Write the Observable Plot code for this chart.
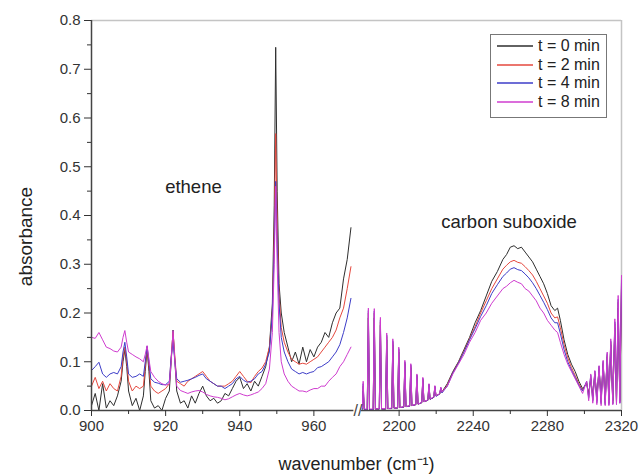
<!DOCTYPE html>
<html><head><meta charset="utf-8">
<script src="https://cdn.jsdelivr.net/npm/d3@7"></script>
<script src="https://cdn.jsdelivr.net/npm/@observablehq/plot@0.6"></script>
<style>
body{margin:0;background:#fff;font-family:"Liberation Sans",Arial,sans-serif;}
#wrap{position:relative;width:641px;height:476px;}
#legend{position:absolute;left:490px;top:34px;width:117px;height:84px;border:1px solid #777;background:#fff;box-sizing:border-box;padding-top:2px;font-size:16px;color:#222;}
#legend .row{display:flex;align-items:center;height:18.5px;}
#legend svg{margin-left:6px;margin-right:5px;}
</style>
</head><body>
<div id="wrap"><div id="legend"></div></div>
<script>
const seriesNames = ["t = 0 min", "t = 2 min", "t = 4 min", "t = 8 min"];
const seriesColors = ["#2e2e2e", "#e5483e", "#3d3dc8", "#cf3ccf"];

// ethene region (cm-1)
const wnEthene = [900,901,902,903,904,905,906,907,908,908.5,909,909.5,910,911,912,913,914,914.5,915,915.5,916,917,918,919,920,921,921.5,922,922.5,923,924,925,926,927,928,929,930,931,932,933,934,935,936,937,938,939,940,941,942,943,944,945,946,947,948,948.8,949.3,949.7,950.1,950.6,951.2,952,953,954,955,956,957,958,959,960,961,962,963,964,965,966,967,968,969,970];
const absEthene0 = [0.01,0.035,0.0,0.055,0.005,0.02,0.01,0.03,0.06,0.1,0.125,0.09,0.04,0.01,0.025,0.0,0.03,0.08,0.125,0.08,0.02,0.005,0.01,0.0,0.025,0.04,0.1,0.165,0.1,0.04,0.015,0.02,0.005,0.03,0.015,0.035,0.05,0.03,0.02,0.025,0.015,0.02,0.035,0.03,0.045,0.06,0.068,0.045,0.055,0.04,0.06,0.05,0.07,0.09,0.13,0.22,0.42,0.745,0.45,0.26,0.2,0.16,0.13,0.1,0.12,0.095,0.13,0.1,0.125,0.11,0.13,0.14,0.16,0.15,0.18,0.2,0.21,0.27,0.31,0.375];
const absEthene2 = [0.05,0.068,0.045,0.06,0.04,0.055,0.045,0.04,0.07,0.11,0.13,0.1,0.06,0.04,0.05,0.045,0.05,0.09,0.13,0.09,0.05,0.04,0.035,0.04,0.045,0.055,0.11,0.16,0.11,0.06,0.055,0.05,0.06,0.065,0.07,0.075,0.08,0.07,0.06,0.055,0.05,0.05,0.05,0.055,0.06,0.07,0.08,0.07,0.06,0.057,0.07,0.08,0.087,0.1,0.13,0.2,0.36,0.568,0.38,0.24,0.17,0.14,0.12,0.105,0.1,0.095,0.097,0.095,0.1,0.105,0.11,0.12,0.13,0.14,0.15,0.165,0.19,0.21,0.25,0.295];
const absEthene4 = [0.082,0.09,0.099,0.075,0.068,0.075,0.078,0.075,0.09,0.12,0.14,0.11,0.075,0.068,0.07,0.075,0.07,0.1,0.132,0.1,0.065,0.058,0.056,0.053,0.053,0.06,0.11,0.14,0.1,0.065,0.058,0.06,0.062,0.065,0.068,0.072,0.075,0.065,0.06,0.055,0.05,0.05,0.045,0.05,0.055,0.065,0.07,0.062,0.058,0.06,0.065,0.075,0.08,0.095,0.12,0.2,0.33,0.47,0.34,0.22,0.15,0.12,0.1,0.085,0.08,0.075,0.078,0.075,0.078,0.08,0.088,0.09,0.095,0.1,0.11,0.12,0.135,0.16,0.19,0.23];
const absEthene8 = [0.15,0.148,0.16,0.145,0.13,0.127,0.122,0.12,0.13,0.15,0.164,0.14,0.12,0.115,0.11,0.106,0.1,0.115,0.133,0.105,0.08,0.068,0.06,0.055,0.052,0.055,0.1,0.164,0.1,0.05,0.041,0.038,0.035,0.038,0.04,0.041,0.038,0.033,0.03,0.028,0.027,0.025,0.022,0.024,0.028,0.032,0.035,0.032,0.03,0.032,0.035,0.038,0.045,0.055,0.085,0.16,0.3,0.46,0.3,0.16,0.1,0.075,0.06,0.05,0.045,0.04,0.04,0.038,0.042,0.045,0.045,0.05,0.05,0.06,0.068,0.075,0.09,0.1,0.115,0.13];

// carbon suboxide region (cm-1)
const wnSuboxide = [2180.2,2180.6,2181.2,2182.8,2183.4,2184.0,2186.0,2186.6,2187.2,2189.3,2189.9,2190.5,2192.7,2193.3,2193.9,2196.0,2196.6,2197.2,2199.2,2199.8,2200.4,2202.5,2203.1,2203.7,2205.7,2206.3,2206.9,2209.0,2209.6,2210.2,2212.2,2212.8,2213.4,2215.5,2216.1,2216.7,2218.7,2219.3,2219.9,2221.9,2222.5,2223.1,
2226,2229,2232,2235,2238,2241,2244,2247,2250,2253,2256,2258,2260,2262,2264,2266,2268,2270,2272,2274,2276,2278,2280,2282,2284,2285.5,2287,2289,2291,2293,2295,2297,2299,
2301.2,2302.3,2303.4,2304.5,2305.6,2306.7,2307.9,2309.0,2310.1,2311.2,2312.3,2313.2,2314.2,2315.3,2316.4,2317.3,2318.2,2319.1,2320.0];
const absSuboxide0 = [0.003,0.04,0.002,0.002,0.19,0.002,0.002,0.19,0.003,0.003,0.175,0.003,0.003,0.145,0.004,0.004,0.135,0.005,0.005,0.12,0.006,0.007,0.095,0.008,0.009,0.088,0.01,0.012,0.07,0.013,0.016,0.062,0.018,0.021,0.05,0.023,0.027,0.047,0.03,0.034,0.045,0.038,
0.055,0.08,0.1,0.125,0.15,0.18,0.205,0.235,0.265,0.285,0.31,0.32,0.335,0.338,0.332,0.335,0.325,0.315,0.305,0.29,0.275,0.26,0.24,0.215,0.205,0.21,0.185,0.145,0.115,0.095,0.08,0.06,0.045,
0.055,0.035,0.065,0.03,0.075,0.027,0.085,0.025,0.095,0.022,0.11,0.022,0.135,0.02,0.17,0.02,0.21,0.02,0.25];
const absSuboxide2 = [0.003,0.05,0.002,0.002,0.2,0.002,0.002,0.2,0.003,0.003,0.182,0.003,0.003,0.152,0.004,0.004,0.14,0.005,0.005,0.125,0.006,0.007,0.098,0.008,0.009,0.092,0.01,0.012,0.072,0.013,0.016,0.065,0.018,0.021,0.053,0.023,0.027,0.049,0.03,0.034,0.046,0.037,
0.052,0.078,0.098,0.122,0.147,0.172,0.2,0.225,0.25,0.27,0.29,0.298,0.305,0.308,0.304,0.302,0.295,0.287,0.278,0.265,0.25,0.235,0.22,0.2,0.19,0.192,0.17,0.135,0.108,0.088,0.072,0.055,0.042,
0.058,0.028,0.07,0.022,0.078,0.02,0.088,0.017,0.098,0.015,0.113,0.015,0.14,0.015,0.178,0.015,0.222,0.017,0.262];
const absSuboxide4 = [0.003,0.055,0.002,0.002,0.205,0.002,0.002,0.204,0.003,0.003,0.186,0.003,0.003,0.155,0.004,0.004,0.143,0.005,0.005,0.127,0.006,0.007,0.1,0.008,0.009,0.094,0.01,0.012,0.073,0.013,0.016,0.066,0.018,0.021,0.054,0.023,0.027,0.05,0.029,0.034,0.047,0.036,
0.05,0.077,0.097,0.12,0.145,0.168,0.193,0.215,0.24,0.258,0.275,0.282,0.29,0.293,0.289,0.287,0.28,0.272,0.262,0.25,0.236,0.222,0.207,0.19,0.18,0.18,0.158,0.125,0.1,0.083,0.068,0.052,0.04,
0.06,0.025,0.073,0.019,0.081,0.016,0.091,0.014,0.101,0.012,0.117,0.012,0.143,0.013,0.182,0.013,0.228,0.015,0.268];
const absSuboxide8 = [0.005,0.06,0.003,0.003,0.21,0.003,0.003,0.209,0.003,0.004,0.191,0.004,0.004,0.159,0.004,0.005,0.147,0.005,0.006,0.13,0.006,0.008,0.103,0.008,0.01,0.096,0.01,0.013,0.075,0.013,0.017,0.068,0.018,0.022,0.055,0.024,0.028,0.051,0.03,0.035,0.048,0.038,
0.05,0.075,0.095,0.115,0.14,0.16,0.185,0.2,0.22,0.235,0.25,0.255,0.262,0.267,0.263,0.26,0.25,0.245,0.235,0.225,0.21,0.2,0.185,0.175,0.165,0.16,0.14,0.115,0.095,0.08,0.065,0.05,0.035,
0.06,0.02,0.075,0.015,0.082,0.012,0.092,0.01,0.103,0.01,0.12,0.01,0.147,0.012,0.188,0.012,0.236,0.015,0.277];

const yTicks = [0, 0.1, 0.2, 0.3, 0.4, 0.5, 0.6, 0.7, 0.8];
const yMinorTicks = [0.05, 0.15, 0.25, 0.35, 0.45, 0.55, 0.65, 0.75];
const xTicks = [900, 920, 940, 960, 2200, 2240, 2280, 2320];
const xMinorTicks = [910, 930, 950, 2220, 2260, 2300];

// broken axis: 900–970 at full scale, 2180–2320 at half scale
function toU(w) { return w < 1500 ? w - 900 : 73 + (w - 2180) / 2; }
function fromU(u) { return String(u < 72 ? Math.round(900 + u) : Math.round(2180 + (u - 73) * 2)); }

const etheneSets = [absEthene0, absEthene2, absEthene4, absEthene8];
const suboxideSets = [absSuboxide0, absSuboxide2, absSuboxide4, absSuboxide8];
const data = [];
seriesNames.forEach((name, k) => {
  wnEthene.forEach((w, i) => data.push({wn: w, a: etheneSets[k][i], series: name, seg: "L"}));
  wnSuboxide.forEach((w, i) => data.push({wn: w, a: suboxideSets[k][i], series: name, seg: "R"}));
});

const axisSegments = [{from: 900, to: 970.8}, {from: 2179.6, to: 2320}];
const labels = [{wn: 927.5, a: 0.459, text: "ethene"}, {wn: 2259.3, a: 0.386, text: "carbon suboxide"}];

const font = "'Liberation Sans', Arial, sans-serif";
const chart = Plot.plot({
  width: 641, height: 476,
  marginLeft: 91, marginRight: 20, marginTop: 20, marginBottom: 66,
  style: {fontFamily: font, color: "#333", background: "white", overflow: "visible"},
  x: {domain: [0, 143]},
  y: {domain: [0, 0.8]},
  color: {domain: seriesNames, range: seriesColors},
  marks: [
    Plot.ruleY([0.8], {stroke: "#c4c4c4", strokeWidth: 1.5}),
    Plot.ruleX([143], {stroke: "#c4c4c4", strokeWidth: 1.5}),
    Plot.line(data, {x: d => toU(d.wn), y: "a", z: d => d.series + d.seg, stroke: "series", strokeWidth: 1}),
    Plot.ruleX([0], {stroke: "#444", strokeWidth: 1.5}),
    Plot.ruleY(axisSegments, {y: 0, x1: d => toU(d.from), x2: d => toU(d.to), stroke: "#444", strokeWidth: 1.5}),
    Plot.text(["//"], {x: 71.9, y: 0, fontSize: 16, fill: "#444"}),
    Plot.axisY({ticks: yTicks, tickFormat: d3.format(".1f"), tickSize: 7, tickPadding: 4, fontSize: 15, label: null}),
    Plot.axisY({ticks: yMinorTicks, tickFormat: () => "", tickSize: 4, label: null}),
    Plot.axisX({ticks: xTicks.map(toU), tickFormat: fromU, tickSize: 6, tickPadding: 4, fontSize: 15, label: null}),
    Plot.axisX({ticks: xMinorTicks.map(toU), tickFormat: () => "", tickSize: 4, label: null}),
    Plot.text(labels, {x: d => toU(d.wn), y: "a", text: "text", fontSize: 18.5, fill: "#222"}),
    Plot.text(["absorbance"], {frameAnchor: "left", textAnchor: "middle", dx: -66, dy: 21, rotate: -90, fontSize: 19, fill: "#222"}),
    Plot.text(["wavenumber (cm⁻¹)"], {frameAnchor: "bottom", textAnchor: "middle", dy: 59, fontSize: 18, fill: "#222"})
  ]
});
const wrap = document.getElementById("wrap");
wrap.insertBefore(chart, wrap.firstChild);

const legend = document.getElementById("legend");
const NS = "http://www.w3.org/2000/svg";
seriesNames.forEach((name, k) => {
  const row = document.createElement("div");
  row.className = "row";
  const sw = document.createElementNS(NS, "svg");
  sw.setAttribute("width", "36");
  sw.setAttribute("height", "6");
  const ln = document.createElementNS(NS, "line");
  ln.setAttribute("x1", "0"); ln.setAttribute("x2", "36");
  ln.setAttribute("y1", "3"); ln.setAttribute("y2", "3");
  ln.setAttribute("stroke", seriesColors[k]);
  ln.setAttribute("stroke-width", "1.6");
  sw.appendChild(ln);
  const tx = document.createElement("span");
  tx.textContent = name;
  row.appendChild(sw); row.appendChild(tx);
  legend.appendChild(row);
});
</script>
</body></html>
